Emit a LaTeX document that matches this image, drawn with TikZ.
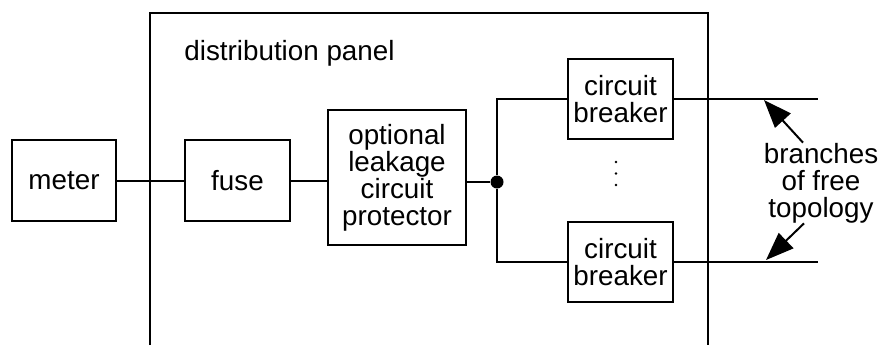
\documentclass[tikz,border=0pt]{standalone}
\usepackage{fontspec}
\setsansfont{Liberation Sans}
\usetikzlibrary{arrows.meta}
\tikzset{
  font=\sffamily\fontsize{13.9}{13.5}\selectfont,
  box/.style={draw, line width=1pt, align=center, inner sep=0pt},
  wire/.style={line width=1pt},
  pointer/.style={-{Triangle[length=14pt, width=10.5pt]}, line width=1pt},
  junction/.style={circle, fill, inner sep=0pt, minimum size=6.5pt},
  note/.style={align=center, inner sep=0pt}
}

\begin{document}
\begin{tikzpicture}[x=0.5pt, y=-0.5pt]
\useasboundingbox (0,0) rectangle (882,345);

% --------------------------------------------------------------------------
% Distribution panel
% --------------------------------------------------------------------------
\draw[wire] (150,345) |- (708,13) -- (708,345);
\node[anchor=base west, inner sep=0pt] (panel) at (184,60) {distribution panel};

% --------------------------------------------------------------------------
% Main line
% --------------------------------------------------------------------------
\node[box, minimum width=52pt, minimum height=40.5pt] (meter) at (64,180.5) {meter};
\node[box, minimum width=52.5pt, minimum height=40.5pt] (fuse) at (237.5,180.5) {fuse};
\node[box, minimum width=69pt, minimum height=67.5pt] (olcp) at (397,177.5) {
  optional\\leakage\\circuit\\protector
};
\node[junction] (junc) at (497,182) {};

\draw[wire] (meter) -- (fuse);
\draw[wire] (fuse.east) -- (fuse.east -| olcp.west);
\draw[wire] (olcp.east |- junc) -- (junc);

% --------------------------------------------------------------------------
% Branches
% --------------------------------------------------------------------------
\node[box, minimum width=52.5pt, minimum height=40pt] (cbtop) at (620.5,99) {circuit\\breaker};
\node[box, minimum width=52.5pt, minimum height=40pt] (cbbot) at (620.5,262) {circuit\\breaker};
\coordinate (endtop) at (818,99);
\coordinate (endbot) at (818,262);

\draw[wire] (cbtop.west) -| (junc) |- (cbbot.west);
\draw[wire] (cbtop) -- (endtop);
\draw[wire] (cbbot) -- (endbot);

\foreach \y in {162,173.5,185}
  \fill (616,\y) circle (0.7pt);

% --------------------------------------------------------------------------
% Annotation
% --------------------------------------------------------------------------
\node[note] (branches) at (821,183) {branches\\of free\\topology};
\coordinate (hittop) at (764,100);
\coordinate (hitbot) at (766,260);

\draw[pointer] ([xshift=-9pt]branches.north) -- (hittop);
\draw[pointer] ([xshift=-8.5pt]branches.south) -- (hitbot);

\end{tikzpicture}
\end{document}
